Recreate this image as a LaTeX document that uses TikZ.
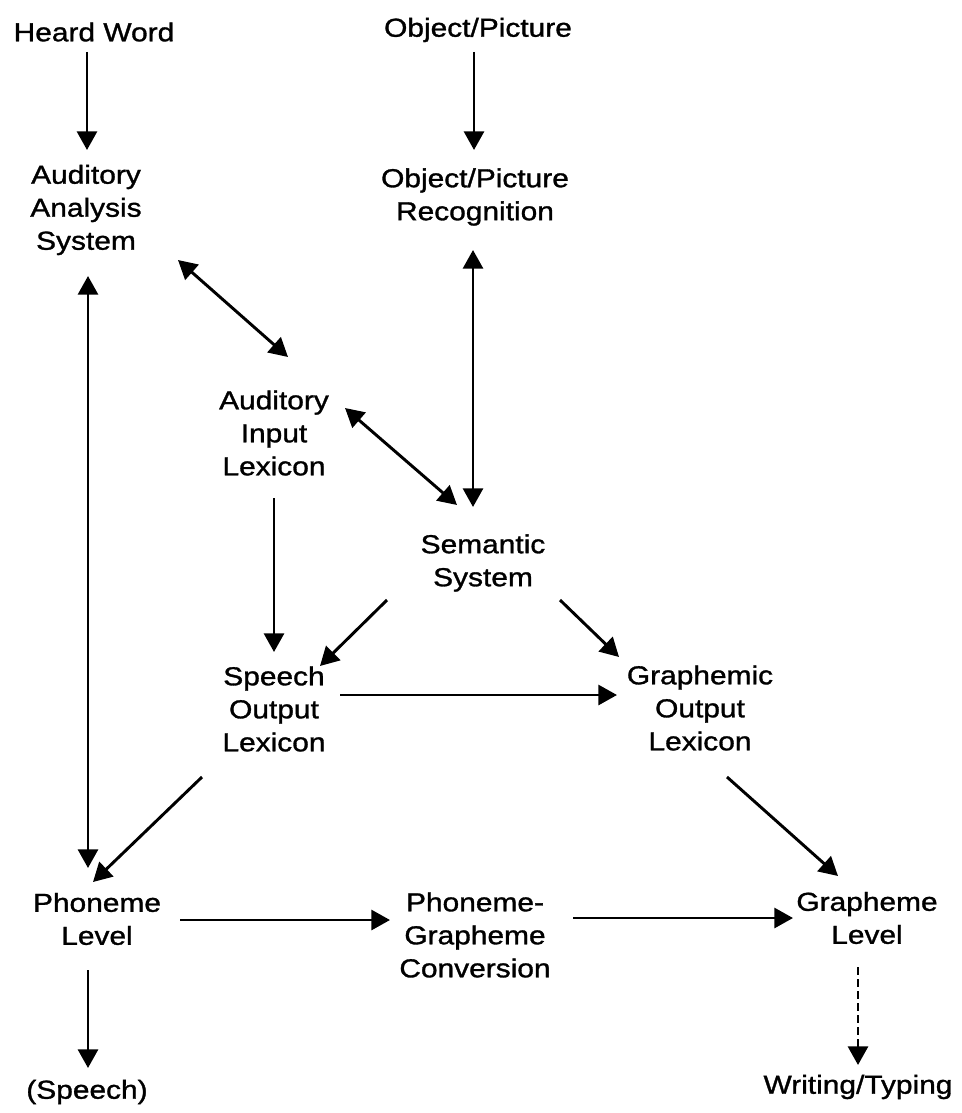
\documentclass[tikz,border=0pt]{standalone}
\usepackage{fontspec}
\setmainfont{Liberation Sans}[FakeStretch=1.15,FakeBold=1.2]
\usepackage{tikz}
\usetikzlibrary{calc}
\usetikzlibrary{arrows.meta}
\tikzset{
  lbl/.style={align=center,inner sep=0pt,font=\fontsize{19.5}{24.75}\selectfont},
  arr/.style={line width=2.2pt,-{Triangle[width=15pt,length=14pt]}},
  barr/.style={line width=2.2pt,{Triangle[width=15pt,length=14pt]}-{Triangle[width=15pt,length=14pt]}}
}

\begin{document}
\begin{tikzpicture}[x=0.75pt,y=-0.75pt]
\useasboundingbox (0,0) rectangle (962,1113);
% inputs
\node[lbl] (hw) at (94,32) {Heard Word};
\node[lbl] (op) at (478,30) {Object/Picture};
% stages
\node[lbl] (aas) at (86,210) {Auditory\\Analysis\\System};
\node[lbl] (opr) at (475,197) {Object/Picture\\Recognition};
\node[lbl] (ail) at (274,433) {Auditory\\Input\\Lexicon};
\node[lbl] (sem) at (483,563) {Semantic\\System};
\node[lbl] (sol) at (274,709) {Speech\\Output\\Lexicon};
\node[lbl] (gol) at (700,708) {Graphemic\\Output\\Lexicon};
\node[lbl] (phl) at (97,919) {Phoneme\\Level};
\node[lbl] (pgc) at (475,935) {Phoneme-\\Grapheme\\Conversion};
\node[lbl] (grl) at (867,918) {Grapheme\\Level};
% outputs
\node[lbl] (sp) at (87,1092) {(Speech)};
\node[lbl] (wt) at (858,1087) {Writing/Typing};

\draw[arr] ($(hw)+(-7,20)$) -- ($(aas)+(1,-60)$);
\draw[arr] ($(op)+(-4,22)$) -- ($(opr)+(-1,-47)$);
\draw[barr] ($(aas)+(2,66)$) -- ($(phl)+(-9,-51)$);
\draw[barr] ($(aas)+(92,50)$) -- ($(ail)+(14,-76)$);
\draw[barr] ($(opr)+(-2,53)$) -- ($(sem)+(-10,-56)$);
\draw[barr] ($(ail)+(71,-25)$) -- ($(sem)+(-26,-58)$);
\draw[arr] ($(ail)+(0,65)$) -- ($(sol)+(0,-57)$);
\draw[arr] ($(sem)+(-96,37)$) -- ($(sol)+(46,-43)$);
\draw[arr] ($(sem)+(77,37)$) -- ($(gol)+(-81,-51)$);
\draw[arr] ($(sol)+(66,-14)$) -- ($(gol)+(-83,-13)$);
\draw[arr] ($(sol)+(-72,68)$) -- ($(phl)+(-4,-37)$);
\draw[arr] ($(gol)+(27,69)$) -- ($(grl)+(-29,-42)$);
\draw[arr] ($(phl)+(83,1)$) -- ($(pgc)+(-85,-15)$);
\draw[arr] ($(pgc)+(98,-17)$) -- ($(grl)+(-74,0)$);
\draw[arr] ($(phl)+(-9,51)$) -- ($(sp)+(1,-24)$);
\draw[arr,dash pattern=on 6pt off 3pt] ($(grl)+(-9,49)$) -- ($(wt)+(0,-22)$);
\end{tikzpicture}
\end{document}
